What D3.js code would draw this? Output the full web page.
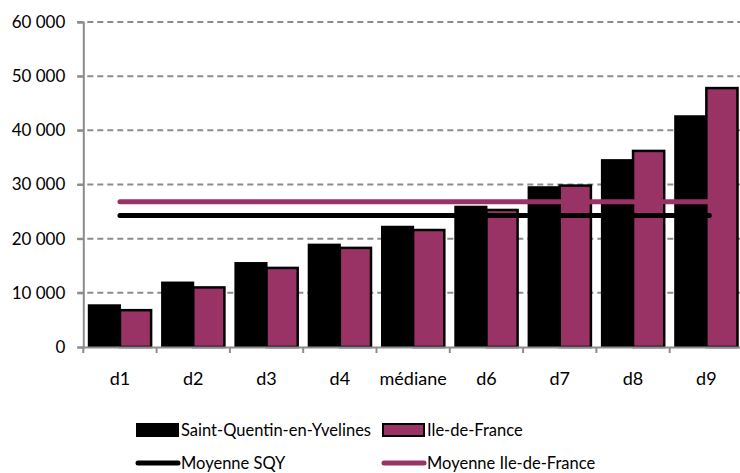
<!DOCTYPE html>
<html><head><meta charset="utf-8">
<script src="https://cdn.jsdelivr.net/npm/d3@7"></script>
<style>
body{margin:0;background:#fff;}
text{font-family:Lato,"Open Sans",sans-serif;fill:#000;}
</style></head>
<body><svg id="c" width="740" height="473"></svg>
<script>
const categories = ["d1","d2","d3","d4","médiane","d6","d7","d8","d9"];
const sqy = [7700, 11900, 15500, 18900, 22200, 25900, 29500, 34500, 42600];
const idf = [6800, 11000, 14600, 18300, 21600, 25300, 29800, 36200, 47800];
const meanSQY = 24300;
const meanIDF = 26800;
const yTicks = [0, 10000, 20000, 30000, 40000, 50000, 60000];
const yTickLabels = ["0","10 000","20 000","30 000","40 000","50 000","60 000"];
const seriesNames = ["Saint-Quentin-en-Yvelines","Ile-de-France"];
const meanNames = ["Moyenne SQY","Moyenne Ile-de-France"];

(function(){
const colSQY = "#000000", colIDF = "#993366", gridCol = "#8c8c8c";
const svg = d3.select("#c");
const mL = 83.3, mR = 743, mT = 22, mB = 347;

const x = d3.scaleBand().domain(categories).range([mL, mR]).paddingInner(0.15).paddingOuter(0.075);
const step = x.step();
const x1 = d3.scaleBand().domain([0,1]).range([0, x.bandwidth()]);
const y = d3.scaleLinear().domain([0, 60000]).range([mB, mT]);

// gridlines
svg.append("g").selectAll("line").data(yTicks.filter(d=>d>0)).join("line")
  .attr("x1", mL-6).attr("x2", 740).attr("y1", d=>y(d)).attr("y2", d=>y(d))
  .attr("stroke", gridCol).attr("stroke-width", 2).attr("stroke-dasharray", "6,4");

// y axis
const yAxis = d3.axisLeft(y).tickValues(yTicks).tickSize(6).tickFormat((d,i)=>yTickLabels[i]);
const gy = svg.append("g").attr("transform", `translate(${mL},0)`).call(yAxis);
gy.select(".domain").attr("stroke", gridCol).attr("stroke-width", 2);
gy.selectAll(".tick line").attr("stroke", gridCol).attr("stroke-width", 2);
gy.selectAll(".tick text").attr("x", -18).attr("font-size", 17).attr("font-family","Lato").attr("fill","#000");

// bars
const groups = svg.append("g").selectAll("g").data(categories).join("g")
  .attr("transform", d=>`translate(${x(d)},0)`);
groups.append("rect").attr("x", x1(0)).attr("width", x1.bandwidth())
  .attr("y", (d,i)=>y(sqy[i])).attr("height", (d,i)=>y(0)-y(sqy[i]))
  .attr("fill", colSQY).attr("stroke", "#000").attr("stroke-width", 2);
groups.append("rect").attr("x", x1(1)).attr("width", x1.bandwidth())
  .attr("y", (d,i)=>y(idf[i])).attr("height", (d,i)=>y(0)-y(idf[i]))
  .attr("fill", colIDF).attr("stroke", "#000").attr("stroke-width", 2.5);

// x axis
const xAxis = d3.axisBottom(x).tickSize(0).tickPadding(0);
const gx = svg.append("g").attr("transform", `translate(0,${mB})`).call(xAxis);
gx.select(".domain").attr("stroke", gridCol).attr("stroke-width", 2);
gx.selectAll(".tick text").attr("y", 25).attr("font-size", 18).attr("font-family","Lato").attr("fill","#000");
gx.append("g").selectAll("line").data(d3.range(categories.length)).join("line")
  .attr("x1", i=>mL+i*step).attr("x2", i=>mL+i*step).attr("y1", 0).attr("y2", 6)
  .attr("stroke", gridCol).attr("stroke-width", 2);

// mean lines
const cx0 = x(categories[0]) + x.bandwidth()/2;
const cx1 = x(categories[categories.length-1]) + x.bandwidth()/2;
[[meanIDF, colIDF],[meanSQY, colSQY]].forEach(([v,c])=>{
  svg.append("line").attr("x1", cx0).attr("x2", cx1+3).attr("y1", y(v)).attr("y2", y(v))
    .attr("stroke", c).attr("stroke-width", 5).attr("stroke-linecap","round");
});

// legend
const lg = svg.append("g");
const lx = [137, 383];
[colSQY, colIDF].forEach((c,i)=>{
  lg.append("rect").attr("x", lx[i]).attr("y", 424).attr("width", 41).attr("height", 12)
    .attr("fill", c).attr("stroke", "#000").attr("stroke-width", 2);
  lg.append("text").attr("x", lx[i]+44).attr("y", 430).attr("dy","0.35em")
    .attr("font-size", 16.5).text(seriesNames[i]);
  lg.append("line").attr("x1", lx[i]+1).attr("x2", lx[i]+41).attr("y1", 463).attr("y2", 463)
    .attr("stroke", c).attr("stroke-width", 5).attr("stroke-linecap","round");
  lg.append("text").attr("x", lx[i]+44).attr("y", 463).attr("dy","0.35em")
    .attr("font-size", 16.5).text(meanNames[i]);
});
})();
</script></body></html>
